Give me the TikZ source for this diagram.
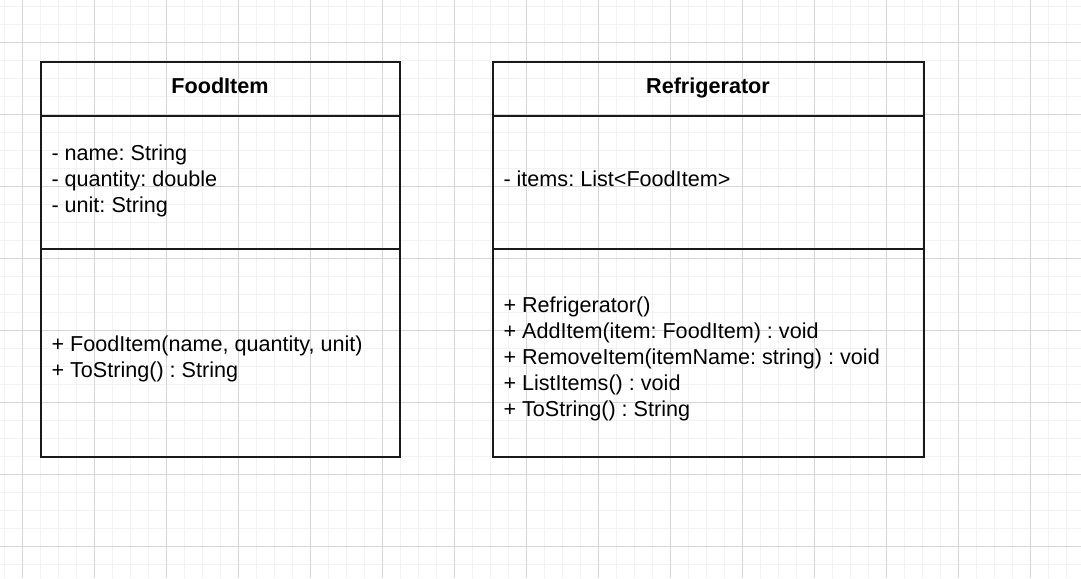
\documentclass[tikz,border=0pt]{standalone}
\usepackage{fontspec}
\setmainfont{Liberation Sans}
\usepackage{tikz}
\usetikzlibrary{positioning}
\frenchspacing
\tikzset{every picture/.style={line width=0.75pt}}
\tikzset{
  minorgrid/.style={draw=black!5, line width=0.75pt},
  majorgrid/.style={draw=black!16, line width=0.75pt},
  umlbox/.style={draw=black!90, line width=1.5pt},
  member/.style={anchor=base west, inner sep=0pt, font=\fontsize{16.2pt}{19.5pt}\selectfont},
  classname/.style={anchor=base, inner sep=0pt, font=\fontsize{16.2pt}{19.5pt}\selectfont\bfseries},
}

\begin{document}
\begin{tikzpicture}[x=0.75pt,y=-0.75pt]
\useasboundingbox (0,0) rectangle (1081,578);
\fill[white] (0,0) rectangle (1081,578);
% grid
\foreach \x in {4.5,22.5,...,1081} \draw[minorgrid] (\x,0) -- (\x,578);
\foreach \y in {6.5,24.5,...,578} \draw[minorgrid] (0,\y) -- (1081,\y);
\foreach \x in {22.5,94.5,...,1081} \draw[majorgrid] (\x,0) -- (\x,578);
\foreach \y in {42.5,114.5,...,578} \draw[majorgrid] (0,\y) -- (1081,\y);
%
% FoodItem
\draw[umlbox] (40.5,62) rectangle (400,457);
\draw[umlbox] (40.5,115.5) -- (400,115.5);
\draw[umlbox] (40.5,248.5) -- (400,248.5);
\node[classname] (food) at (220,93.3) {FoodItem};
\node[member] (fname) at (51,160.5) {- name: String};
\node[member] (fqty) at (51,186.5) {- quantity: double};
\node[member] (funit) at (51,212.5) {- unit: String};
\node[member] (fctor) at (51,351) {+ FoodItem(name, quantity, unit)};
\node[member] (fstr) at (51,377) {+ ToString() : String};
%
% Refrigerator
\draw[umlbox] (492.5,62) rectangle (923.5,457);
\draw[umlbox] (492.5,115.5) -- (923.5,115.5);
\draw[umlbox] (492.5,248.5) -- (923.5,248.5);
\node[classname] (fridge) at (708,93.3) {Refrigerator};
\node[member] (ritems) at (503,186.5) {- items: List<FoodItem>};
\node[member] (rctor) at (503,312.3) {+ Refrigerator()};
\node[member] (radd) at (503,338.3) {+ AddItem(item: FoodItem) : void};
\node[member] (rremove) at (503,364.3) {+ RemoveItem(itemName: string) : void};
\node[member] (rlist) at (503,390.3) {+ ListItems() : void};
\node[member] (rstr) at (503,416.3) {+ ToString() : String};
\end{tikzpicture}
\end{document}
